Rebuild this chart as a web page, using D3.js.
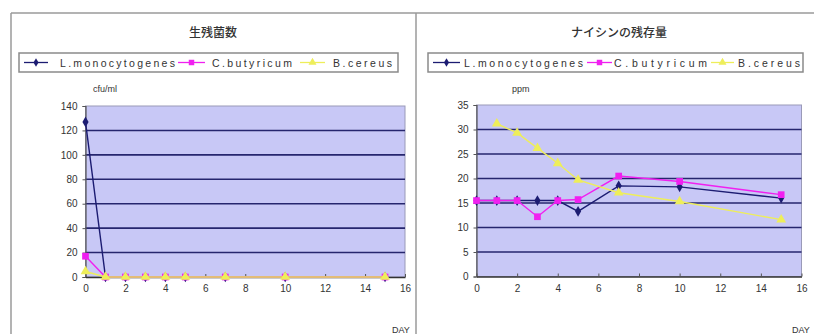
<!DOCTYPE html>
<html>
<head>
<meta charset="utf-8">
<script src="https://cdn.jsdelivr.net/npm/d3@7"></script>
<style>
  html, body { margin: 0; padding: 0; background: #ffffff; }
  svg { display: block; }
  text { font-family: "Liberation Sans", Arial, sans-serif; fill: #333; }
  .jp { font-family: "Noto Sans CJK JP", sans-serif; }
</style>
</head>
<body>
<svg id="chart" width="814" height="334"></svg>
<script>
// Sampling days
const days = [0, 1, 2, 3, 4, 5, 7, 10, 15];

// Viable counts (cfu/ml)
const countListeria = [127, 0, 0, 0, 0, 0, 0, 0, 0];
const countClostridium = [17, 0, 0, 0, 0, 0, 0, 0, 0];
const countBacillus = [4.5, 0, 0, 0, 0, 0, 0, 0, 0];

// Residual nisin (ppm); B.cereus has no day-0 reading
const nisinListeria = [15.5, 15.5, 15.5, 15.5, 15.5, 13.3, 18.5, 18.3, 16.0];
const nisinClostridium = [15.5, 15.5, 15.5, 12.2, 15.5, 15.7, 20.5, 19.4, 16.7];
const nisinBacillus = [null, 31.2, 29.3, 26.2, 23.1, 19.7, 17.1, 15.3, 11.6];

const seriesNames = ["L.monocytogenes", "C.butyricum", "B.cereus"];
const xTicks = [0, 2, 4, 6, 8, 10, 12, 14, 16];
const countTicks = [0, 20, 40, 60, 80, 100, 120, 140];
const nisinTicks = [0, 5, 10, 15, 20, 25, 30, 35];

const colors = ["#1c1c72", "#f020f0", "#eeee5a"];
const symbols = [d3.symbolDiamond, d3.symbolSquare, d3.symbolTriangle];
const symbolSizes = [22, 30, 28];

const svg = d3.select("#chart");

// Panel frames: top rule, left edge and divider
svg.append("line").attr("x1", 11).attr("x2", 814).attr("y1", 13).attr("y2", 13)
  .attr("stroke", "#9a9a9a").attr("stroke-width", 1.5);
svg.append("line").attr("x1", 11).attr("x2", 11).attr("y1", 13).attr("y2", 334)
  .attr("stroke", "#9a9a9a").attr("stroke-width", 1.5);
svg.append("line").attr("x1", 416).attr("x2", 416).attr("y1", 13).attr("y2", 334)
  .attr("stroke", "#9a9a9a").attr("stroke-width", 1.5);

function drawPanel(cfg) {
  const g = svg.append("g");
  const x = d3.scaleLinear().domain([0, 16]).range([cfg.plot.left, cfg.plot.right]);
  const y = d3.scaleLinear().domain([0, cfg.yMax]).range([cfg.plot.bottom, cfg.plot.top]);

  // Title
  g.append("text").attr("class", "jp")
    .attr("x", cfg.titleX).attr("y", 37)
    .attr("text-anchor", "middle")
    .attr("font-size", 12).attr("font-weight", 500)
    .attr("fill", "#222")
    .text(cfg.title);

  // Legend box
  const lg = cfg.legend;
  g.append("rect").attr("x", lg.x).attr("y", 53).attr("width", lg.w).attr("height", 19)
    .attr("fill", "#fff").attr("stroke", "#8a8a8a").attr("stroke-width", 1.5);
  seriesNames.forEach((name, i) => {
    const e = lg.entries[i];
    g.append("line").attr("x1", e.l0).attr("x2", e.l1).attr("y1", 62.5).attr("y2", 62.5)
      .attr("stroke", colors[i]).attr("stroke-width", 1.3);
    g.append("path")
      .attr("d", d3.symbol().type(symbols[i]).size(symbolSizes[i])())
      .attr("transform", `translate(${(e.l0 + e.l1) / 2},62.5)`)
      .attr("fill", colors[i]);
    g.append("text").attr("x", e.t0).attr("y", 66.5)
      .attr("font-size", 10.5)
      .attr("textLength", e.t1 - e.t0).attr("lengthAdjust", "spacing")
      .attr("fill", "#333")
      .text(name);
  });

  // Unit label
  g.append("text").attr("x", cfg.unitX).attr("y", 92)
    .attr("font-size", 9).attr("fill", "#444").text(cfg.unit);

  // Plot area
  g.append("rect")
    .attr("x", cfg.plot.left).attr("y", cfg.plot.top)
    .attr("width", cfg.plot.right - cfg.plot.left)
    .attr("height", cfg.plot.bottom - cfg.plot.top)
    .attr("fill", "#c8c8f6").attr("stroke", "#9a9ab8").attr("stroke-width", 1);

  // Horizontal gridlines
  g.append("g").selectAll("line")
    .data(cfg.yTicks.filter(v => v > 0 && v < cfg.yMax))
    .join("line")
    .attr("x1", cfg.plot.left).attr("x2", cfg.plot.right)
    .attr("y1", d => y(d)).attr("y2", d => y(d))
    .attr("stroke", "#26266e").attr("stroke-width", 1.6);

  // Y axis
  const yAxis = g.append("g")
    .attr("transform", `translate(${cfg.plot.left},0)`)
    .call(d3.axisLeft(y).tickValues(cfg.yTicks).tickSize(3).tickPadding(5));
  yAxis.select(".domain").attr("stroke", "#555").attr("stroke-width", 1.2);
  yAxis.selectAll(".tick line").attr("stroke", "#555");
  yAxis.selectAll("text").attr("font-size", 10).attr("fill", "#333")
    .style("font-family", "'Liberation Sans', Arial, sans-serif");

  // X axis with inward ticks
  const xAxis = g.append("g")
    .attr("transform", `translate(0,${cfg.plot.bottom})`)
    .call(d3.axisBottom(x).tickValues(xTicks).tickSizeInner(-3).tickSizeOuter(0).tickPadding(8));
  xAxis.select(".domain").attr("stroke", "#333").attr("stroke-width", 1.5);
  xAxis.selectAll(".tick line").attr("stroke", "#555");
  xAxis.selectAll("text").attr("font-size", 10).attr("fill", "#333")
    .style("font-family", "'Liberation Sans', Arial, sans-serif");

  // DAY label
  g.append("text").attr("x", cfg.dayX).attr("y", 333)
    .attr("font-size", 9).attr("fill", "#444").text("DAY");

  // Series
  const line = d3.line()
    .defined(d => d.v !== null)
    .x(d => x(d.day)).y(d => y(d.v));
  cfg.series.forEach((vals, i) => {
    const pts = days.map((day, k) => ({ day, v: vals[k] }));
    g.append("path").datum(pts)
      .attr("d", line)
      .attr("fill", "none")
      .attr("stroke", colors[i]).attr("stroke-width", 1.4);
    g.append("g").selectAll("path")
      .data(pts.filter(d => d.v !== null))
      .join("path")
      .attr("d", d3.symbol().type(symbols[i]).size(symbolSizes[i] * 1.5)())
      .attr("transform", d => `translate(${x(d.day)},${y(d.v)})`)
      .attr("fill", colors[i]);
  });
}

drawPanel({
  title: "生残菌数",
  titleX: 213,
  unit: "cfu/ml",
  unitX: 93,
  yMax: 140,
  yTicks: countTicks,
  plot: { left: 85.5, right: 405, top: 106, bottom: 277 },
  dayX: 392,
  legend: {
    x: 19, w: 379,
    entries: [
      { l0: 24, l1: 48, t0: 60, t1: 175 },
      { l0: 178, l1: 205, t0: 212, t1: 292 },
      { l0: 300, l1: 325, t0: 333, t1: 392 }
    ]
  },
  series: [countListeria, countClostridium, countBacillus]
});

drawPanel({
  title: "ナイシンの残存量",
  titleX: 619,
  unit: "ppm",
  unitX: 512,
  yMax: 35,
  yTicks: nisinTicks,
  plot: { left: 476.5, right: 801.5, top: 105, bottom: 276.5 },
  dayX: 792,
  legend: {
    x: 428, w: 375,
    entries: [
      { l0: 433, l1: 460, t0: 464, t1: 583 },
      { l0: 587, l1: 612, t0: 614, t1: 707 },
      { l0: 711, l1: 734, t0: 738, t1: 800 }
    ]
  },
  series: [nisinListeria, nisinClostridium, nisinBacillus]
});
</script>
</body>
</html>
